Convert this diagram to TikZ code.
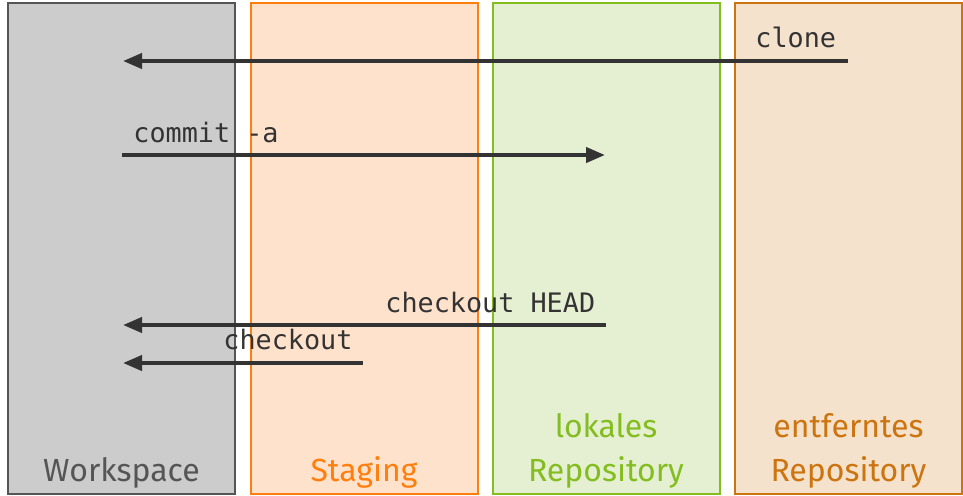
\documentclass[tikz,border=0pt]{standalone}
\usepackage{fontspec}
\setmainfont{Fira Sans}
\setmonofont{DejaVu Sans Mono}
\usetikzlibrary{arrows.meta}
\definecolor{wsfill}{HTML}{CCCCCC}
\definecolor{wsdraw}{HTML}{555555}
\definecolor{stfill}{HTML}{FFE2CC}
\definecolor{stdraw}{HTML}{FF7F0E}
\definecolor{lrfill}{HTML}{E5F0D3}
\definecolor{lrdraw}{HTML}{84BD1F}
\definecolor{rrfill}{HTML}{F5E2CC}
\definecolor{rrdraw}{HTML}{CC7410}
\definecolor{cmd}{HTML}{333333}
\tikzset{
  col/.style={draw, line width=1pt, minimum width=113.5pt, minimum height=245.5pt, inner sep=0pt},
  area/.style={font=\fontsize{16}{22}\selectfont, align=center, anchor=base, inner sep=0pt},
  cmdlabel/.style={font=\ttfamily\fontsize{13.4}{15}\selectfont, text=cmd, anchor=base west, inner sep=0pt},
  cmdarrow/.style={->, line width=2pt, draw=cmd}
}
\begin{document}
\begin{tikzpicture}[x=0.5pt, y=-0.5pt, >={Triangle[length=9.5pt, width=7.5pt]}]
\useasboundingbox (0,0) rectangle (963,495);
% columns
\node[col, fill=wsfill, draw=wsdraw] (ws) at (121.5,248.5) {};
\node[col, fill=stfill, draw=stdraw] (st) at (364,248.5) {};
\node[col, fill=lrfill, draw=lrdraw] (lr) at (606,248.5) {};
\node[col, fill=rrfill, draw=rrdraw] (rr) at (848.5,248.5) {};
\node[area, text=wsdraw] (wslabel) at (121.5,481) {Workspace};
\node[area, text=stdraw] (stlabel) at (364,481) {Staging};
\node[area, text=lrdraw] (lrlabel) at (606,481) {lokales\\Repository};
\node[area, text=rrdraw] (rrlabel) at (848.5,481) {entferntes\\Repository};
% commands
\coordinate (clonefrom) at (848,61);
\coordinate (cloneto) at (123,61);
\coordinate (commitfrom) at (122,155);
\coordinate (committo) at (605,155);
\coordinate (headfrom) at (606,325);
\coordinate (headto) at (123,325);
\coordinate (coutfrom) at (363,363);
\coordinate (coutto) at (123,363);
\draw[cmdarrow] (clonefrom) -- (cloneto);
\draw[cmdarrow] (commitfrom) -- (committo);
\draw[cmdarrow] (headfrom) -- (headto);
\draw[cmdarrow] (coutfrom) -- (coutto);
\node[cmdlabel] (clone) at (755,47) {clone};
\node[cmdlabel] (commit) at (133,142) {commit -a};
\node[cmdlabel] (head) at (385,312) {checkout HEAD};
\node[cmdlabel] (cout) at (223,349) {checkout};
\end{tikzpicture}
\end{document}
